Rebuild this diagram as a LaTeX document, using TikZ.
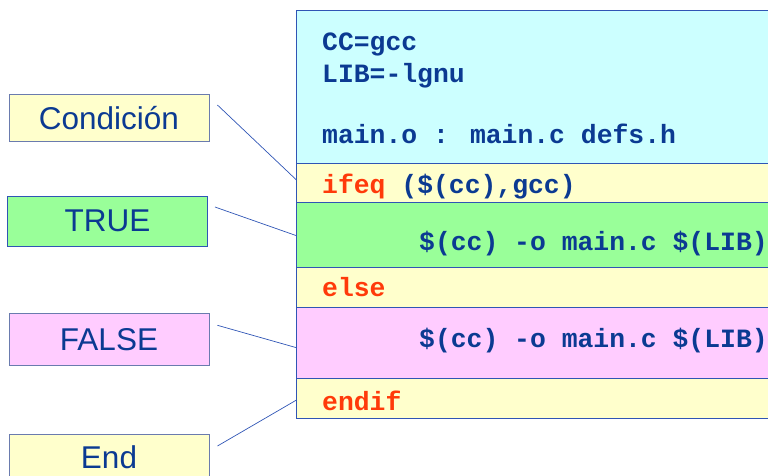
\documentclass[tikz,border=0pt]{standalone}
\usepackage{fontspec}
\setmainfont{Liberation Sans}
\newfontfamily\codefont{Liberation Mono}
\definecolor{bcyan}{HTML}{CCFFFF}
\definecolor{byel}{HTML}{FFFFCC}
\definecolor{bgreen}{HTML}{99FF99}
\definecolor{bpink}{HTML}{FFCCFF}
\definecolor{edgeblue}{HTML}{2F55B5}
\definecolor{txtblue}{HTML}{0B3A92}
\definecolor{kwred}{HTML}{FF3A0A}
\definecolor{grayedge}{HTML}{6A7BAE}
\tikzset{
  band/.style={draw=edgeblue, line width=0.9pt},
  code/.style={anchor=base west, inner sep=0pt, text=txtblue, font=\codefont\bfseries\fontsize{26.4}{30}\selectfont},
  kw/.style={code, text=kwred},
  lbl/.style={draw=grayedge, line width=0.9pt, minimum width=200pt, minimum height=47pt, inner sep=0pt, text=txtblue, font=\fontsize{31.5}{34}\selectfont},
  conn/.style={draw=edgeblue, line width=0.7pt}
}
\begin{document}
\begin{tikzpicture}[x=1pt,y=-1pt]
\useasboundingbox (0,0) rectangle (768,475);
\begin{scope}
\clip (0,0) rectangle (768,475);
% bands
\path[band, fill=bcyan] (296.5,10.5) rectangle (775,163);
\path[band, fill=byel] (296.5,163) rectangle (775,202);
\path[band, fill=bgreen] (296.5,202) rectangle (775,267);
\path[band, fill=byel] (296.5,267) rectangle (775,307);
\path[band, fill=bpink] (296.5,307) rectangle (775,378.5);
\path[band, fill=byel] (296.5,378.5) rectangle (775,418.5);
% code
\node[code] (l1) at (322,50) {CC=gcc};
\node[code] (l2) at (322,82) {LIB=-lgnu};
\node[code] (l3) at (322,143) {main.o : main.c defs.h};
\node[code] (l4) at (322,193) {\textcolor{kwred}{ifeq} (\$(cc),gcc)};
\node[code] (l5) at (419,250) {\$(cc) -o main.c \$(LIB)};
\node[kw] (l6) at (322,296) {else};
\node[code] (l7) at (419,347) {\$(cc) -o main.c \$(LIB)};
\node[kw] (l8) at (322,410) {endif};
% labels
\node[lbl, fill=byel] (cond) at (109,118) {Condición};
\node[lbl, fill=bgreen, draw=edgeblue, minimum height=50pt] (true) at (107.5,221) {TRUE};
\node[lbl, fill=bpink, minimum height=52pt] (false) at (109,339.3) {FALSE};
\node[lbl, fill=byel] (endl) at (109,457.5) {End};
% connector ends
\coordinate (cc) at (296.5,180);
\coordinate (ct) at (296.5,235.7);
\coordinate (cf) at (296.5,347.7);
\coordinate (ce) at (296.5,400);
\draw[conn] ([xshift=8pt,yshift=13pt]cond.east) -- (cc);
\draw[conn] ([xshift=7pt,yshift=14pt]true.east) -- (ct);
\draw[conn] ([xshift=8pt,yshift=14pt]false.east) -- (cf);
\draw[conn] ([xshift=8pt,yshift=11.5pt]endl.east) -- (ce);
\end{scope}
\end{tikzpicture}
\end{document}
